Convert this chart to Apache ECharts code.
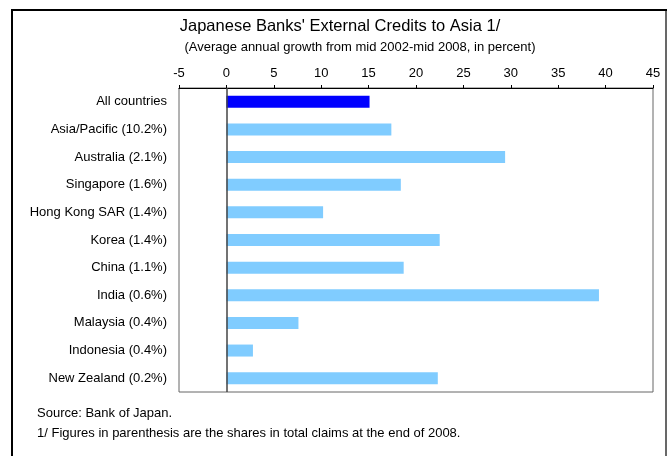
<!DOCTYPE html>
<html>
<head>
<meta charset="utf-8">
<script src="https://cdn.jsdelivr.net/npm/echarts@6/dist/echarts.min.js"></script>
<style>
  html, body { margin: 0; padding: 0; background: #fff; }
</style>
</head>
<body>
<div id="chart" style="width: 667px; height: 456px"></div>
<script>
// categories top to bottom
const categories = [
  "All countries",
  "Asia/Pacific (10.2%)",
  "Australia (2.1%)",
  "Singapore (1.6%)",
  "Hong Kong SAR (1.4%)",
  "Korea (1.4%)",
  "China (1.1%)",
  "India (0.6%)",
  "Malaysia (0.4%)",
  "Indonesia (0.4%)",
  "New Zealand (0.2%)"
];
// average annual growth, percent
const growth = [15.1, 17.4, 29.4, 18.4, 10.2, 22.5, 18.7, 39.3, 7.6, 2.8, 22.3];
const xTicks = { min: -5, max: 45, interval: 5 };

const chart = echarts.init(document.getElementById("chart"));

const font = "Liberation Sans, Arial, sans-serif";

const option = {
  animation: false,
  textStyle: { fontFamily: font },
  graphic: [
    // outer frame
    {
      type: "rect",
      shape: { x: 12, y: 10, width: 654, height: 460 },
      style: { fill: "none", stroke: "#000", lineWidth: 2 },
      z: 0
    },
    {
      type: "line",
      shape: { x1: 666, y1: 11, x2: 666, y2: 456 },
      style: { stroke: "#d0d0d0", lineWidth: 1 },
      z: 1
    },
    {
      type: "text",
      style: { text: "Japanese Banks' External Credits to Asia 1/", font: "16.5px " + font, fill: "#000", x: 340, y: 18, textAlign: "center" }
    },
    {
      type: "text",
      style: { text: "(Average annual growth from mid 2002-mid 2008, in percent)", font: "13px " + font, fill: "#000", x: 360, y: 41, textAlign: "center" }
    },
    {
      type: "text",
      style: { text: "Source: Bank of Japan.", font: "13px " + font, fill: "#000", x: 37, y: 407 }
    },
    {
      type: "text",
      style: { text: "1/ Figures in parenthesis are the shares in total claims at the end of 2008.", font: "13px " + font, fill: "#000", x: 37, y: 427 }
    }
  ],
  grid: {
    left: 179,
    right: 14,
    top: 88,
    height: 304,
    show: true,
    borderColor: "#666",
    borderWidth: 1,
    backgroundColor: "transparent"
  },
  xAxis: {
    type: "value",
    position: "top",
    min: xTicks.min,
    max: xTicks.max,
    interval: xTicks.interval,
    axisLine: { show: true, lineStyle: { color: "#000", width: 1 } },
    axisTick: { show: true, inside: false, length: 3, lineStyle: { color: "#000" } },
    axisLabel: { color: "#000", fontSize: 13, margin: 8, fontFamily: font },
    splitLine: { show: false }
  },
  yAxis: {
    type: "category",
    data: categories,
    inverse: true,
    axisLine: { show: false },
    axisTick: { show: false },
    axisLabel: { color: "#000", fontSize: 13, margin: 12, fontFamily: font }
  },
  series: [
    {
      type: "bar",
      barWidth: 12,
      data: growth.map((v, i) => ({
        value: v,
        itemStyle: { color: i === 0 ? "#0000FF" : "#80CCFF" }
      })),
      markLine: {
        silent: true,
        symbol: "none",
        label: { show: false },
        lineStyle: { color: "#444", type: "solid", width: 1.5 },
        data: [{ xAxis: 0 }]
      }
    }
  ]
};

chart.setOption(option);
</script>
</body>
</html>
